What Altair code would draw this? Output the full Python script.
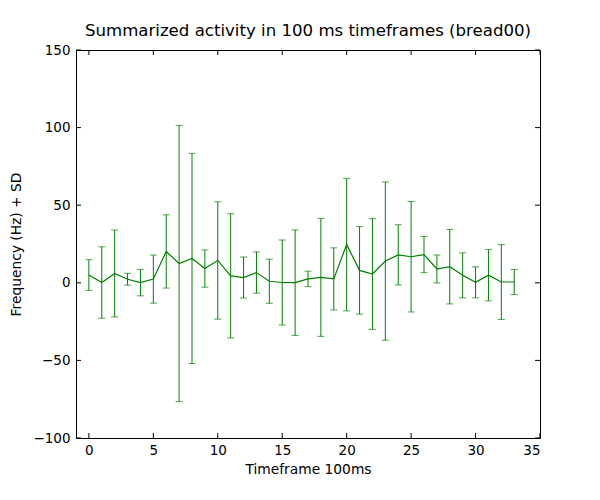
import altair as alt
import pandas as pd

frames = list(range(34))
means = [5.0, 0.2, 6.0, 2.3, 0.1, 2.4, 20.2, 12.4, 15.7, 9.2,
         14.4, 4.5, 3.4, 6.6, 1.0, 0.2, 0.1, 2.5, 3.5, 2.5,
         24.6, 8.0, 5.7, 14.0, 18.0, 16.8, 18.2, 8.9, 10.4, 4.8,
         0.3, 4.9, 0.5, 0.5]
sds = [9.9, 23.0, 28.0, 3.8, 8.5, 15.5, 23.6, 89.0, 67.7, 12.0,
       37.8, 40.0, 13.2, 13.3, 14.2, 27.4, 34.0, 5.0, 38.0, 20.0,
       42.7, 28.2, 35.7, 51.0, 19.4, 35.6, 11.7, 9.0, 24.0, 14.5,
       10.0, 16.5, 24.1, 8.1]
xticks = [0, 5, 10, 15, 20, 25, 30, 35]
yticks = [-100, -50, 0, 50, 100, 150]

W, H = 464, 388
FONT = "DejaVu Sans"
GREEN = "#008000"

df = pd.DataFrame({"t": frames, "m": means, "sd": sds})

xs = alt.Scale(domain=[-1, 35], nice=False, zero=False)
ys = alt.Scale(domain=[-100, 150], nice=False, zero=False)

xax = alt.Axis(values=xticks, title="Timeframe 100ms", grid=False, domain=False,
               ticks=False, labelPadding=5, titlePadding=6)
yax = alt.Axis(values=yticks, title="Frequency (Hz) + SD", grid=False, domain=False,
               ticks=False, labelPadding=6, titlePadding=9)

base = alt.Chart(df).transform_calculate(
    lo="datum.m - datum.sd", hi="datum.m + datum.sd"
)

bars = base.mark_rule(color=GREEN, strokeWidth=1).encode(
    x=alt.X("t:Q", scale=xs, axis=xax),
    y=alt.Y("lo:Q", scale=ys, axis=yax),
    y2="hi:Q",
)
cap_lo = base.mark_tick(color=GREEN, orient="horizontal", size=7, thickness=1).encode(
    x="t:Q", y="lo:Q"
)
cap_hi = base.mark_tick(color=GREEN, orient="horizontal", size=7, thickness=1).encode(
    x="t:Q", y="hi:Q"
)
line = base.mark_line(color=GREEN, strokeWidth=1.2).encode(
    x="t:Q", y="m:Q"
)

xt = pd.DataFrame({"v": xticks})
yt = pd.DataFrame({"v": yticks})
tick_b = alt.Chart(xt).mark_rule(color="black", strokeWidth=1).encode(
    x=alt.X("v:Q", scale=xs), y=alt.value(H), y2=alt.value(H - 5))
tick_t = alt.Chart(xt).mark_rule(color="black", strokeWidth=1).encode(
    x=alt.X("v:Q", scale=xs), y=alt.value(0), y2=alt.value(5))
tick_l = alt.Chart(yt).mark_rule(color="black", strokeWidth=1).encode(
    y=alt.Y("v:Q", scale=ys), x=alt.value(0), x2=alt.value(5))
tick_r = alt.Chart(yt).mark_rule(color="black", strokeWidth=1).encode(
    y=alt.Y("v:Q", scale=ys), x=alt.value(W), x2=alt.value(W - 5))

chart = alt.layer(bars, cap_lo, cap_hi, line, tick_b, tick_t, tick_l, tick_r).properties(
    width=W, height=H,
    title=alt.TitleParams("Summarized activity in 100 ms timeframes (bread00)",
                          font=FONT, fontSize=16.6, fontWeight="normal",
                          color="black", anchor="middle", offset=3),
    autosize=alt.AutoSizeParams(type="none"),
    padding={"left": 68, "top": 42, "right": 52, "bottom": 54},
).configure_axis(
    labelFont=FONT, labelFontSize=13.5, labelColor="black",
    titleFont=FONT, titleFontSize=13.8, titleFontWeight="normal", titleColor="black",
).configure_view(
    stroke="black", strokeWidth=1
)

chart.save("out.html", embed_options={"renderer": "svg", "actions": False})
